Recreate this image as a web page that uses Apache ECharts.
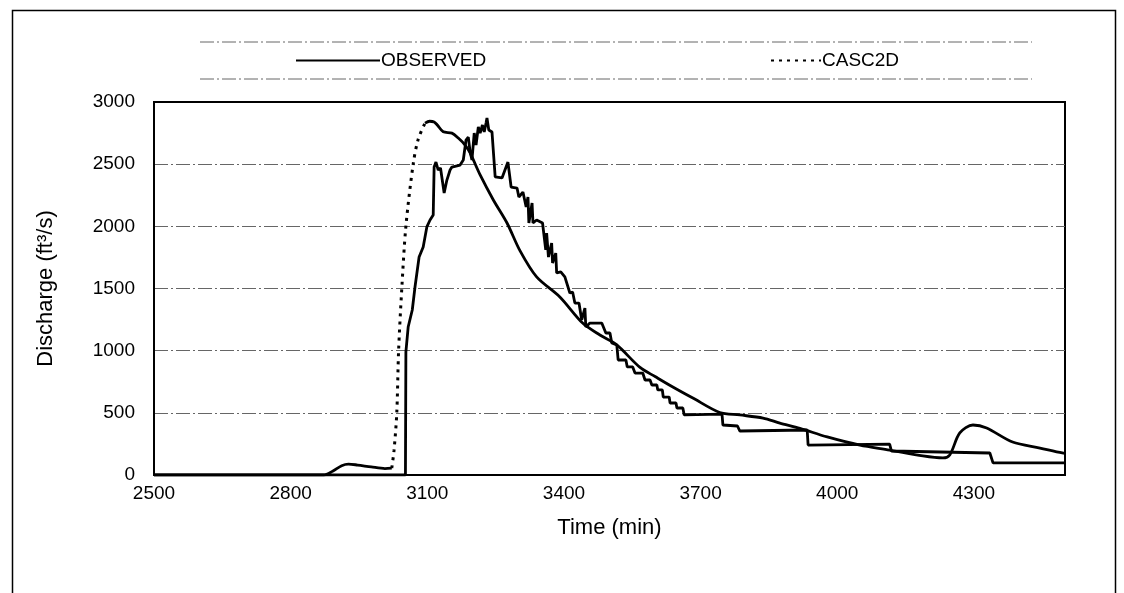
<!DOCTYPE html>
<html>
<head>
<meta charset="utf-8">
<title>Discharge hydrograph</title>
<script src="https://cdn.jsdelivr.net/npm/echarts@6/dist/echarts.min.js"></script>
<style>
  html, body { margin: 0; padding: 0; background: #fff; }
  #chart { width: 1124px; height: 593px; }
</style>
</head>
<body>
<div id="chart"></div>
<script>
  // observed hydrograph (min, ft3/s)
  const obsTime = [2500, 3052, 3053, 3058, 3067, 3073, 3082, 3091, 3099, 3106, 3113, 3115, 3119, 3124, 3129, 3137, 3143, 3150, 3154, 3172, 3179, 3185, 3190, 3194, 3198, 3203, 3207, 3212, 3216, 3221, 3225, 3229, 3231, 3235, 3242, 3249, 3253, 3264, 3277, 3284, 3297, 3301, 3310, 3317, 3321, 3323, 3330, 3332, 3340, 3353, 3360, 3362, 3366, 3373, 3375, 3382, 3384, 3393, 3402, 3413, 3419, 3424, 3433, 3439, 3446, 3448, 3457, 3483, 3492, 3501, 3505, 3516, 3519, 3536, 3539, 3551, 3556, 3573, 3578, 3589, 3593, 3604, 3606, 3616, 3618, 3631, 3633, 3646, 3648, 3661, 3664, 3747, 3749, 3781, 3786, 3934, 3936, 4115, 4119, 4335, 4342, 4500];
  const obsFlow = [0, 0, 990, 1190, 1327, 1512, 1753, 1834, 1995, 2051, 2091, 2477, 2517, 2453, 2469, 2268, 2372, 2453, 2477, 2493, 2533, 2694, 2718, 2598, 2533, 2750, 2654, 2799, 2750, 2815, 2759, 2831, 2871, 2775, 2759, 2397, 2389, 2389, 2517, 2316, 2308, 2236, 2276, 2156, 2236, 2027, 2188, 2027, 2051, 2027, 1810, 1946, 1753, 1866, 1705, 1785, 1625, 1633, 1593, 1464, 1472, 1383, 1383, 1247, 1343, 1190, 1222, 1222, 1142, 1142, 1062, 1046, 925, 925, 869, 869, 820, 820, 764, 764, 724, 724, 684, 684, 627, 627, 579, 579, 539, 539, 483, 490, 402, 394, 354, 362, 241, 249, 193, 177, 97, 97];

  // CASC2D simulated hydrograph (min, ft3/s)
  const cascTime = [2500, 2872, 2892, 2912, 2927, 2947, 2977, 3007, 3022, 3027, 3033, 3037, 3044, 3053, 3069, 3080, 3095, 3105, 3115, 3122, 3135, 3154, 3168, 3183, 3194, 3216, 3245, 3275, 3304, 3340, 3391, 3441, 3479, 3516, 3567, 3601, 3639, 3683, 3742, 3786, 3837, 3874, 3918, 3978, 4050, 4115, 4188, 4232, 4247, 4269, 4298, 4328, 4385, 4445, 4494, 4500];
  const cascFlow = [0, 0, 30, 75, 88, 80, 65, 52, 55, 200, 500, 1000, 1500, 2000, 2500, 2700, 2830, 2845, 2840, 2815, 2760, 2750, 2710, 2654, 2590, 2413, 2212, 2027, 1800, 1593, 1432, 1222, 1126, 1046, 865, 790, 708, 619, 503, 483, 458, 418, 375, 306, 240, 201, 153, 137, 161, 338, 402, 378, 265, 217, 177, 175];

  // part of the CASC2D curve that is printed dotted
  const riseFrom = 3022;
  const riseTo = 3095;

  const xTicks = { min: 2500, max: 4500, step: 300 };
  const yTicks = { min: 0, max: 3000, step: 500 };

  const pairs = (t, q) => t.map((v, i) => [v, q[i]]);
  const casc = pairs(cascTime, cascFlow);
  const cascPre = casc.filter(p => p[0] <= riseFrom);
  const cascRise = casc.filter(p => p[0] >= riseFrom && p[0] <= riseTo);
  const cascMain = casc.filter(p => p[0] >= riseTo);

  const FONT = '"Liberation Sans", Arial, sans-serif';
  const solid = { color: '#000', width: 2.8, type: 'solid' };
  const dotted = { color: '#000', width: 3, type: [3, 5] };
  const plain = v => String(v);

  const legendBase = {
    top: 51, itemHeight: 12, itemGap: 2, padding: 0,
    itemStyle: { opacity: 0 },
    textStyle: { fontFamily: FONT, fontSize: 19, color: '#000', padding: [0, 0, 0, -4] }
  };

  const chart = echarts.init(document.getElementById('chart'));
  chart.setOption({
    animation: false,
    backgroundColor: '#fff',
    color: ['#000'],
    textStyle: { fontFamily: FONT, color: '#000' },
    grid: {
      left: 154, right: 59, top: 102, bottom: 118,
      show: true, borderColor: '#000', borderWidth: 2, containLabel: false
    },
    legend: [
      Object.assign({ data: ['OBSERVED'], left: 295, itemWidth: 84 }, legendBase),
      Object.assign({ data: ['CASC2D'], left: 770, itemWidth: 50 }, legendBase)
    ],
    graphic: [
      { type: 'rect', left: 10, top: 8, shape: { width: 1103, height: 620 },
        style: { fill: 'none', stroke: '#000', lineWidth: 1.5 }, silent: true },
      { type: 'line', shape: { x1: 200, y1: 42, x2: 1032, y2: 42 },
        style: { stroke: '#666', lineWidth: 1, lineDash: [14, 3, 2, 3] }, silent: true },
      { type: 'line', shape: { x1: 200, y1: 79, x2: 1032, y2: 79 },
        style: { stroke: '#666', lineWidth: 1, lineDash: [14, 3, 2, 3] }, silent: true }
    ],
    xAxis: {
      type: 'value',
      min: xTicks.min, max: xTicks.max, interval: xTicks.step,
      name: 'Time (min)', nameLocation: 'middle', nameGap: 42,
      nameTextStyle: { fontFamily: FONT, fontSize: 22, color: '#000' },
      axisLine: { lineStyle: { color: '#000', width: 2 } },
      axisTick: { show: false },
      axisLabel: { fontFamily: FONT, fontSize: 19, color: '#000', margin: 9, showMaxLabel: false, formatter: plain },
      splitLine: { show: false }
    },
    yAxis: {
      type: 'value',
      min: yTicks.min, max: yTicks.max, interval: yTicks.step,
      name: 'Discharge (ft³/s)', nameLocation: 'middle', nameGap: 97,
      nameTextStyle: { fontFamily: FONT, fontSize: 22, color: '#000' },
      axisLine: { show: true, lineStyle: { color: '#000', width: 2 } },
      axisTick: { show: false },
      axisLabel: { fontFamily: FONT, fontSize: 19, color: '#000', margin: 19, formatter: plain },
      splitLine: {
        show: true, showMinLine: false, showMaxLine: false,
        lineStyle: { color: '#666', width: 1, type: [14, 3, 2, 3] }
      }
    },
    series: [
      { name: 'CASC2D', type: 'line', data: cascRise, symbol: 'none', smooth: 0.3, lineStyle: dotted, z: 3 },
      { name: 'CASC2D', type: 'line', data: cascPre, symbol: 'none', smooth: 0.3, lineStyle: solid, z: 3 },
      { name: 'CASC2D', type: 'line', data: cascMain, symbol: 'none', smooth: 0.3, lineStyle: solid, z: 3 },
      { name: 'OBSERVED', type: 'line', data: pairs(obsTime, obsFlow), symbol: 'none', lineStyle: solid, z: 4 }
    ]
  });
</script>
</body>
</html>
